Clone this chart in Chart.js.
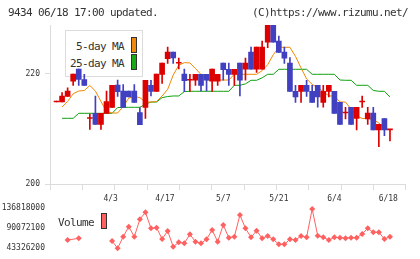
<!DOCTYPE html>
<html><head><meta charset="utf-8">
<script src="https://cdn.jsdelivr.net/npm/chart.js@4/dist/chart.umd.min.js"></script>
<style>
html,body{margin:0;padding:0;background:#fff;}
#wrap{position:relative;width:420px;height:259px;overflow:hidden;font-family:"DejaVu Sans Mono",monospace;color:#333;}
canvas{position:absolute;left:0;top:0;}
.t{position:absolute;font-size:11px;line-height:13px;letter-spacing:-0.62px;white-space:pre;}
#leg{position:absolute;left:65px;top:30px;width:76px;height:45px;border:1px solid #dcdcdc;background:#fff;}
.sw{position:absolute;width:4px;height:14px;border:1px solid #333;}
</style></head>
<body><div id="wrap">
<div id="leg"></div>
<div class="t" style="right:296px;top:40px;">5-day MA</div>
<div class="t" style="right:296px;top:57px;">25-day MA</div>
<div class="sw" style="left:131px;top:37px;background:#f0870f;"></div>
<div class="sw" style="left:131px;top:54px;background:#18a818;"></div>
<canvas id="main" width="420" height="259"></canvas>
<canvas id="vol" width="420" height="259"></canvas>
<div class="t" style="left:8px;top:6px;">9434 06/18 17:00 updated.</div>
<div class="t" style="right:12px;top:6px;">(C)https://www.rizumu.net/</div>
<div class="t" style="left:58px;top:216px;">Volume</div>
<div class="sw" style="left:101px;top:213px;background:#ff6060;"></div>
</div>
<script>
// ---- data (index 0 = oldest, 60 = 06/18) ----
const OPEN  = [214.9,214.9,215.9,218.7,220.9,219.0,211.9,212.85,210.85,212.85,
               213.9,218.0,216.9,216.9,216.9,212.97,213.9,217.94,216.85,219.94,
               222.8,224.0,221.94,220.0,218.85,218.85,219.94,219.94,218.7,218.7,
               222.0,220.85,219.94,222.0,220.85,224.0,220.85,220.85,225.8,228.85,
               226.0,224.0,222.0,216.85,216.85,217.94,216.85,217.94,214.85,216.85,
               216.85,214.85,212.9,213.95,211.9,214.9,211.85,212.9,209.85,211.9,
               209.85];
const HIGH  = [214.9,216.6,217.5,220.0,220.9,219.94,212.7,216.0,212.85,216.9,
               217.95,218.9,218.05,216.9,218.05,213.9,218.85,218.85,220.0,222.0,
               224.9,224.0,222.9,220.9,219.94,219.94,219.94,219.94,220.9,219.94,
               222.0,222.0,220.85,222.0,222.9,224.9,224.9,226.0,228.85,228.85,
               226.9,224.9,222.97,217.94,217.94,218.85,217.94,217.94,217.94,217.94,
               216.85,214.85,213.95,213.95,213.95,216.0,213.95,213.95,210.85,211.9,
               209.85];
const LOW   = [214.9,214.9,215.9,217.9,217.9,217.94,209.9,210.85,209.9,212.85,
               213.9,215.9,213.9,215.85,214.85,210.8,211.9,216.0,216.85,218.3,
               221.9,221.9,220.9,216.8,216.85,217.94,216.9,216.9,216.85,217.9,
               218.85,217.94,217.94,216.0,218.85,220.85,220.3,220.85,224.8,225.8,
               223.9,221.9,216.85,214.85,214.85,215.9,214.85,213.95,213.95,215.85,
               212.85,210.85,211.85,210.85,209.85,213.9,210.85,209.85,206.8,208.8,
               207.85];
const CLOSE = [214.9,216.0,216.9,220.0,219.0,217.94,211.9,210.85,212.85,215.0,
               217.95,216.8,213.9,215.85,214.85,210.8,218.85,216.85,220.0,222.0,
               224.0,222.9,221.94,218.8,218.85,219.94,217.9,218.85,220.9,219.94,
               220.8,219.94,220.85,218.85,222.0,220.85,224.9,224.9,228.85,225.8,
               223.9,222.85,216.85,215.85,217.94,216.85,214.85,215.85,216.85,217.94,
               212.85,210.85,212.9,210.85,213.95,214.9,212.9,209.85,210.85,209.85,
               209.85];
const MA5  = [null,214.0,215.0,216.4,216.9,217.0,217.9,216.9,215.0,213.2,
              212.9,212.9,214.1,215.6,215.9,215.7,214.9,214.9,215.0,216.0,
              217.2,219.8,221.6,222.06,222.0,221.0,219.9,218.9,218.9,218.9,
              218.9,218.9,219.94,219.94,219.94,219.94,219.94,220.6,221.7,223.5,
              224.85,224.85,224.85,223.2,221.1,219.1,218.1,217.5,216.8,216.0,
              216.0,214.9,214.9,213.6,212.4,211.9,211.9,211.7,211.1,210.0,
              209.9];
const MA25 = [null,211.94,211.94,211.94,212.85,212.85,212.85,212.85,212.85,212.85,
              212.85,213.9,213.94,213.94,213.94,213.94,214.5,214.9,214.9,215.7,
              215.9,216.0,216.0,216.8,216.85,216.85,216.85,216.85,216.85,216.85,
              216.85,216.85,217.94,217.94,218.2,218.85,218.85,219.3,219.94,219.94,
              220.85,220.85,220.85,220.85,220.85,220.85,219.94,219.94,219.94,219.94,
              219.94,218.9,218.85,218.85,217.94,217.94,217.94,217.0,216.85,216.85,
              215.8];
const VOLUME = [null,null,62.7e6,null,66.7e6,null,null,null,null,null,
                60.4e6,43.3e6,70.4e6,93.8e6,70.4e6,111.1e6,127.5e6,90.1e6,91.6e6,65.1e6,
                83.8e6,47.1e6,57.3e6,55.0e6,76.0e6,58.8e6,55.0e6,64.3e6,86.1e6,58.8e6,
                97.8e6,68.1e6,70.4e6,121.2e6,90.1e6,69.0e6,84.5e6,66.7e6,72.1e6,64.3e6,
                52.7e6,52.7e6,64.3e6,62.7e6,72.1e6,69.0e6,135.2e6,72.8e6,69.0e6,62.7e6,
                69.0e6,68.1e6,66.7e6,68.1e6,68.1e6,76.8e6,90.1e6,80.7e6,80.7e6,65.1e6,
                70.4e6];
const DATE_LABELS = ['4/3','4/17','5/7','5/21','6/4','6/18'];
const DATE_POS    = [9.75,19.5,30,40,50,59.7];
const PRICE_TICKS = [200,220];
const VOL_TICKS   = [43326200,90072100,136818000];

// ---- styling ----
const UP = '#dd0000', DOWN = '#4040c0';
const XMIN = -1.17, XMAX = 62.83;
const tickFont = {family:'DejaVu Sans Mono', size:8};
const candleColor = c => { const i = c.dataIndex; return CLOSE[i] >= OPEN[i] ? UP : DOWN; };

const bodies = OPEN.map((o,i)=>({x:i, y:[o, CLOSE[i]]}));
const wicks  = HIGH.map((h,i)=>({x:i, y:[LOW[i], h]}));
const ma5 = MA5.map((v,i)=>({x:i, y:v}));
const ma25 = MA25.map((v,i)=>({x:i, y:v}));
const vol = VOLUME.map((v,i)=>({x:i, y:v})).filter(p=>p.y!==null);

new Chart(document.getElementById('main'), {
  data:{datasets:[
    {type:'bar', data:bodies, backgroundColor:candleColor, barThickness:5, minBarLength:1, grouped:false, order:0, borderWidth:0},
    {type:'bar', data:wicks, backgroundColor:candleColor, barThickness:1, minBarLength:1, grouped:false, order:1, borderWidth:0},
    {type:'line', data:ma5, borderColor:'#f08800', borderWidth:1, pointRadius:0, order:2},
    {type:'line', data:ma25, borderColor:'#10a010', borderWidth:1, pointRadius:0, order:3}
  ]},
  options:{
    animation:false, responsive:false, devicePixelRatio:1,
    layout:{padding:{top:25,right:14.3,left:0,bottom:0}},
    plugins:{legend:{display:false}, tooltip:{enabled:false}},
    scales:{
      x:{type:'linear', min:XMIN, max:XMAX, display:false, offset:false},
      xg:{axis:'x', type:'linear', position:'bottom', min:0, max:11, offset:false,
          ticks:{display:false, stepSize:1},
          grid:{drawOnChartArea:false, tickLength:6, color:'#dcdcdc'},
          border:{color:'#dcdcdc'},
          afterFit(s){ s.height = 75; }},
      y:{type:'linear', position:'left', min:200, max:228.9,
         afterBuildTicks(s){ s.ticks = PRICE_TICKS.map(v=>({value:v})); },
         ticks:{font:tickFont, color:'#333', padding:5},
         grid:{drawOnChartArea:false, tickLength:5, color:'#dcdcdc'},
         border:{color:'#dcdcdc'},
         afterFit(s){ s.width = 50; }}
    }
  }
});

new Chart(document.getElementById('vol'), {
  type:'line',
  data:{datasets:[
    {data:vol, borderColor:'#ff6060', backgroundColor:'#ff6060', borderWidth:1,
     pointStyle:'rectRot', pointRadius:3, pointBorderWidth:0, spanGaps:2, clip:false}
  ]},
  options:{
    animation:false, responsive:false, devicePixelRatio:1,
    layout:{padding:{top:0,right:14.3,left:0,bottom:10.7}},
    plugins:{legend:{display:false}, tooltip:{enabled:false}},
    scales:{
      x:{type:'linear', position:'top', min:XMIN, max:XMAX, offset:false,
         afterBuildTicks(s){ s.ticks = DATE_POS.map(v=>({value:v})); },
         ticks:{callback:(v,i)=>DATE_LABELS[i], font:tickFont, color:'#333', padding:5, maxRotation:0, autoSkip:false},
         grid:{display:false, drawTicks:false}, border:{display:false},
         afterFit(s){ s.height = 208.3; }},
      y:{type:'linear', min:43326200, max:136818000,
         afterBuildTicks(s){ s.ticks = VOL_TICKS.map(v=>({value:v})); },
         ticks:{callback:v=>String(v), font:tickFont, color:'#333', padding:5},
         grid:{display:false, drawTicks:false}, border:{display:false},
         afterFit(s){ s.width = 50; }}
    }
  }
});
</script>
</body></html>
